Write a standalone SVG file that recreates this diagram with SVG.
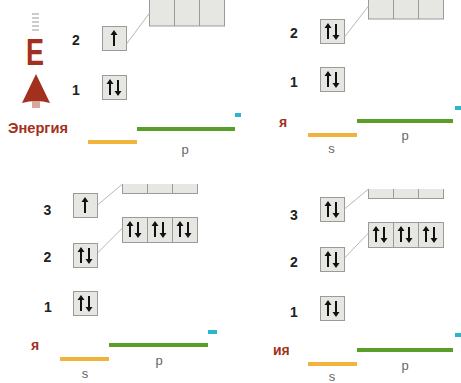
<svg xmlns="http://www.w3.org/2000/svg" xmlns:xlink="http://www.w3.org/1999/xlink" width="461" height="383" viewBox="0 0 461 383">
<style>
.box{fill:#e6e6e2;stroke:#9a9a96;stroke-width:1}
.con{stroke:#b8b8b4;stroke-width:1;fill:none}
.lbl{font-family:"Liberation Sans",Arial,sans-serif;font-weight:bold;font-size:14px;fill:#222;text-anchor:middle}
.arr{fill:#111}
.red{font-family:"Liberation Sans",Arial,sans-serif;font-weight:bold;font-size:14px;fill:#a3301c}
.sp{font-family:"Liberation Sans",Arial,sans-serif;font-size:13px;fill:#666;text-anchor:middle}
.or{fill:#f0b43c}
.gr{fill:#5a9e2a}
.cy{fill:#2cb6cc}
.dash{stroke:#999;stroke-width:1}
</style>
<defs>
<path id="up" class="arr" d="M-1,20 V9 H-3.5 L0,4 L3.5,9 H1 V20 Z"/>
<path id="dn" class="arr" d="M-1,5 V16 H-3.5 L0,21 L3.5,16 H1 V5 Z"/>
<g id="pair"><use href="#up" x="8"/><use href="#dn" x="16"/></g>
<g id="one"><use href="#up" x="12"/></g>
<g id="p3">
<rect class="box" x="0" y="0" width="75" height="25"/>
<line class="box" x1="25" y1="0" x2="25" y2="25"/>
<line class="box" x1="50" y1="0" x2="50" y2="25"/>
</g>
<g id="p3full">
<use href="#p3"/>
<use href="#pair" x="-0.5" y="-0.5"/>
<use href="#pair" x="24.5" y="-0.5"/>
<use href="#pair" x="49.5" y="-0.5"/>
</g>
<clipPath id="clipC"><rect x="100" y="184" width="120" height="20"/></clipPath>
<clipPath id="clipD"><rect x="350" y="189" width="110" height="20"/></clipPath>
</defs>

<!-- Panel A -->
<g id="panelA">
  <g id="A-energy">
    <line class="dash" x1="32" y1="14" x2="39" y2="14"/>
    <line class="dash" x1="32" y1="18" x2="39" y2="18"/>
    <line class="dash" x1="32" y1="22" x2="39" y2="22"/>
    <line class="dash" x1="32" y1="26" x2="39" y2="26"/>
    <line class="dash" x1="32" y1="30" x2="39" y2="30"/>
    <text x="35" y="65" text-anchor="middle" font-family="Liberation Sans, Arial, sans-serif" font-weight="bold" font-size="37" fill="#a3301c" textLength="18" lengthAdjust="spacingAndGlyphs">E</text>
    <path d="M36,74 L50,103 Q36,99 22,103 Z" fill="#a3301c"/>
    <rect x="32" y="101" width="8" height="7" fill="#d8a89e"/>
    <text class="red" x="8" y="133" textLength="60" lengthAdjust="spacingAndGlyphs">Энергия</text>
  </g>
  <g id="A-lvl2"><text class="lbl" x="76" y="45">2</text><rect class="box" x="102.5" y="26.5" width="24" height="24"/><use href="#one" x="102" y="26"/></g>
  <g id="A-lvl1"><text class="lbl" x="76" y="95">1</text><rect class="box" x="102.5" y="75.5" width="24" height="24"/><use href="#pair" x="102" y="75"/></g>
  <g id="A-p2"><rect class="box" x="149.5" y="-10" width="75" height="36"/><line class="box" x1="174.5" y1="-10" x2="174.5" y2="26"/><line class="box" x1="199.5" y1="-10" x2="199.5" y2="26"/></g>
  <g id="A-bars">
    <rect class="or" x="88" y="140" width="49" height="4"/>
    <rect class="gr" x="137" y="127" width="98" height="4"/>
    <rect class="cy" x="235" y="113" width="6" height="4"/>
    <text class="sp" x="185" y="154">p</text>
  </g>
</g>

<!-- Panel B -->
<g id="panelB">
  <g id="B-lvl2"><text class="lbl" x="294" y="38">2</text><rect class="box" x="320.5" y="19.5" width="24" height="24"/><use href="#pair" x="320" y="19"/></g>
  <g id="B-lvl1"><text class="lbl" x="294" y="87">1</text><rect class="box" x="320.5" y="67.5" width="24" height="24"/><use href="#pair" x="320" y="67"/></g>
  <g id="B-p2"><rect class="box" x="368.5" y="-10" width="75" height="29"/><line class="box" x1="393.5" y1="-10" x2="393.5" y2="19"/><line class="box" x1="418.5" y1="-10" x2="418.5" y2="19"/></g>
  <g id="B-bars">
    <text class="red" x="279" y="127">я</text>
    <rect class="or" x="308" y="133" width="49" height="4"/>
    <rect class="gr" x="357" y="119" width="96" height="4"/>
    <rect class="cy" x="455" y="106" width="6" height="4"/>
    <text class="sp" x="331.5" y="153">s</text>
    <text class="sp" x="405" y="140">p</text>
  </g>
</g>

<!-- Panel C -->
<g id="panelC">
  <g id="C-lvl3"><text class="lbl" x="47.5" y="215">3</text><rect class="box" x="73.5" y="193.5" width="24" height="24"/><use href="#one" x="73" y="193"/></g>
  <g id="C-lvl2"><text class="lbl" x="47.5" y="262">2</text><rect class="box" x="73.5" y="243.5" width="24" height="24"/><use href="#pair" x="73" y="243"/></g>
  <g id="C-lvl1"><text class="lbl" x="48" y="312">1</text><rect class="box" x="73.5" y="291.5" width="24" height="24"/><use href="#pair" x="73" y="291"/></g>
  <g id="C-p3" clip-path="url(#clipC)"><use href="#p3" x="122.5" y="168.5"/></g>
  <g id="C-p2"><use href="#p3full" x="122.5" y="217.5"/></g>
  <g id="C-bars">
    <text class="red" x="31" y="350" font-size="12">я</text>
    <rect class="cy" x="208" y="330" width="9" height="4"/>
    <rect class="gr" x="109" y="343" width="99" height="4"/>
    <rect class="or" x="60" y="357" width="49" height="4"/>
    <text class="sp" x="159" y="365">p</text>
    <text class="sp" x="85" y="378">s</text>
  </g>
</g>

<!-- Panel D -->
<g id="panelD">
  <g id="D-lvl3"><text class="lbl" x="294" y="220">3</text><rect class="box" x="320.5" y="197.5" width="24" height="24"/><use href="#pair" x="320" y="197"/></g>
  <g id="D-lvl2"><text class="lbl" x="294" y="267">2</text><rect class="box" x="320.5" y="247.5" width="24" height="24"/><use href="#pair" x="320" y="247"/></g>
  <g id="D-lvl1"><text class="lbl" x="294" y="317">1</text><rect class="box" x="320.5" y="296.5" width="24" height="24"/><use href="#pair" x="320" y="296"/></g>
  <g id="D-p3" clip-path="url(#clipD)"><use href="#p3" x="368.5" y="173.5"/></g>
  <g id="D-p2"><use href="#p3full" x="368.5" y="222.5"/></g>
  <g id="D-bars">
    <text class="red" x="273" y="355">ия</text>
    <rect class="cy" x="455" y="333" width="6" height="4"/>
    <rect class="gr" x="357" y="348" width="96" height="4"/>
    <rect class="or" x="308" y="362" width="49" height="4"/>
    <text class="sp" x="405" y="370">p</text>
    <text class="sp" x="332" y="381" font-size="12">s</text>
  </g>
</g>

<g id="connectors">
  <line class="con" x1="126.5" y1="44" x2="149.5" y2="13"/>
  <line class="con" x1="344.5" y1="37" x2="368.5" y2="6"/>
  <line class="con" x1="97.5" y1="205" x2="122.5" y2="184"/>
  <line class="con" x1="97.5" y1="253" x2="122.5" y2="228"/>
  <line class="con" x1="344.5" y1="209" x2="368.5" y2="189"/>
  <line class="con" x1="344.5" y1="258" x2="368.5" y2="233"/>
</g>
</svg>
